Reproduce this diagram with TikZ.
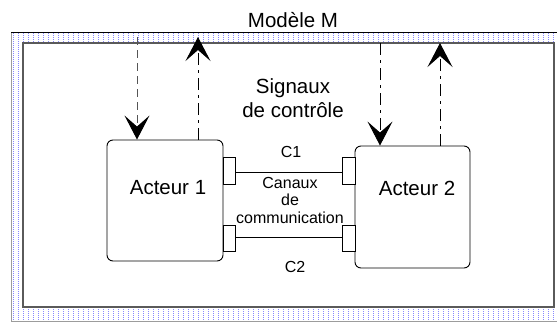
\documentclass[tikz,border=0pt]{standalone}
\usepackage{fontspec}
\setmainfont{Liberation Sans}
\usetikzlibrary{arrows.meta}

\definecolor{dotblue}{RGB}{135,135,255}
\definecolor{framegray}{RGB}{90,90,90}
\definecolor{dashgray}{RGB}{85,85,85}

\tikzset{
  big/.style={font=\fontsize{20.5}{24}\selectfont, inner sep=0pt},
  small/.style={font=\fontsize{16}{17.7}\selectfont, inner sep=0pt, align=center},
  actor/.style={draw, line width=0.9pt, rounded corners=6pt, inner sep=0pt},
  port/.style={draw, line width=0.8pt, inner sep=0pt, fill=white},
  channel/.style={line width=0.8pt},
  sigtip/.style={-{Stealth[length=24pt, width=25pt, inset=11pt, color=black]}},
  sigdash/.style={sigtip, line width=1pt, dashgray, dash pattern=on 8pt off 5pt},
  sigdashdot/.style={sigtip, line width=0.9pt, dash pattern=on 12pt off 5pt on 3pt off 5pt},
}

\begin{document}
\begin{tikzpicture}[x=1pt, y=-1pt]
  \useasboundingbox (0,0) rectangle (557,322);
  \fill[white] (0,0) rectangle (557,322);

  % dotted frame band of the model
  \begin{scope}
    \clip (11,32) rectangle (557,321);
    \foreach \i in {0,...,110} {
      \draw[dotblue, line width=0.8pt, dash pattern=on 1pt off 1pt]
        (13.5+5*\i,33) -- (13.5+5*\i,321);
    }
  \end{scope}
  \draw[framegray!60, line width=0.8pt] (11,321) -- (11,32);
  \draw[framegray!60, line width=0.8pt] (11,321) -- (557,321);
  \draw[black, line width=0.9pt] (11,32) -- (557,32);

  % inner area of the model
  \fill[white] (23,43) rectangle (554,307);
  \draw[framegray, line width=1.8pt] (23,43) rectangle (554,307);

  \node[big, anchor=base] (title) at (293,27) {Modèle M};
  \node[big, anchor=base, align=center] (signals) at (293,117) {Signaux\\de contrôle};

  % actors
  \node[actor, minimum width=116pt, minimum height=121pt] (a1) at (165,200.5) {};
  \node[actor, minimum width=115pt, minimum height=122pt] (a2) at (412.5,207) {};
  \node[big, anchor=base] (a1t) at (168,194) {Acteur 1};
  \node[big, anchor=base] (a2t) at (417,195) {Acteur 2};

  % communication ports
  \node[port, minimum width=12pt, minimum height=27pt] (p1a) at (229,170.5) {};
  \node[port, minimum width=13pt, minimum height=27pt] (p1b) at (348.5,170.5) {};
  \node[port, minimum width=12pt, minimum height=26pt] (p2a) at (229,238) {};
  \node[port, minimum width=13pt, minimum height=26pt] (p2b) at (348.5,238) {};

  % channels
  \draw[channel] (p1a.east |- 0,172) -- (p1b.west |- 0,172);
  \draw[channel] (p2a.east |- 0,237) -- (p2b.west |- 0,237);

  \node[small, anchor=base] (c1) at (291,157) {C1};
  \node[small, anchor=base] (c2) at (295,272) {C2};
  \node[small, anchor=base] (chan) at (290,223.5) {Canaux\\de\\communication};

  % control signals
  \coordinate (s1) at (137,37);
  \coordinate (s2) at (198,37);
  \coordinate (s3) at (380,43);
  \coordinate (s4) at (440,43);
  \draw[sigdash] (s1) -- (s1 |- a1.north);
  \draw[sigdashdot] (s2 |- a1.north) -- (s2);
  \draw[sigdashdot] (s3) -- (s3 |- a2.north);
  \draw[sigdashdot] (s4 |- a2.north) -- (s4);
\end{tikzpicture}
\end{document}
